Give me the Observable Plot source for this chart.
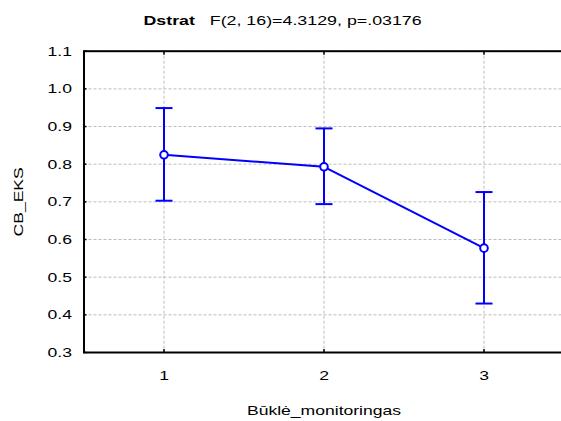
<!DOCTYPE html>
<html><head><meta charset="utf-8">
<script src="https://cdn.jsdelivr.net/npm/d3@7"></script>
<script src="https://cdn.jsdelivr.net/npm/@observablehq/plot@0.6"></script>
<style>
html,body{margin:0;padding:0;background:#fff;overflow:hidden;width:561px;height:421px;}
#title{height:32px;width:561px;text-align:center;font-family:"Liberation Sans",Arial,sans-serif;font-size:13px;line-height:15px;padding-top:13px;box-sizing:border-box;white-space:nowrap;}
#title span.inner{display:inline-block;transform:scaleX(1.37);transform-origin:center;margin-left:5px;}
#chart{width:561px;height:389px;overflow:hidden;}
</style></head><body>
<div id="title"><span class="inner"><b>Dstrat</b>&nbsp;&nbsp; F(2, 16)=4.3129, p=.03176</span></div>
<div id="chart"></div>
<script>
// Data
const groups = [1, 2, 3];
const means  = [0.825, 0.793, 0.577];
const lower  = [0.703, 0.694, 0.430];
const upper  = [0.949, 0.895, 0.726];
const xTicks = [1, 2, 3];
const yTicks = [0.3, 0.4, 0.5, 0.6, 0.7, 0.8, 0.9, 1.0, 1.1];
const xLabel = "Būklė_monitoringas";
const yLabel = "CB_EKS";

const rows = groups.map((g, i) => ({g, m: means[i], lo: lower[i], hi: upper[i]}));
const blue = "#0000ff";
const capSymbol = {draw(ctx, size) { const r = Math.sqrt(size / Math.PI); ctx.moveTo(-r, 0); ctx.lineTo(r, 0); }};

const plot = Plot.plot({
  width: 564, height: 389,
  marginLeft: 83.5, marginRight: 0.5, marginTop: 18.7, marginBottom: 69,
  style: {fontFamily: "'Liberation Sans', Arial, sans-serif", fontSize: "13.5px", color: "black", background: "white", maxWidth: "none", overflow: "visible"},
  x: {domain: [0.5, 3.5]},
  y: {domain: [0.3, 1.1]},
  marks: [
    Plot.gridX(xTicks, {stroke: "#bdbdbd", strokeOpacity: 1, strokeDasharray: "3,2"}),
    Plot.gridY(yTicks, {stroke: "#bdbdbd", strokeOpacity: 1, strokeDasharray: "3,2"}),
    Plot.axisY(yTicks, {anchor: "left", tickSize: -3, tickPadding: 15, tickFormat: d3.format(".1f"), strokeWidth: 1.5,
      label: yLabel, labelAnchor: "center", labelArrow: "none", labelOffset: 71}),
    Plot.axisY(yTicks, {anchor: "right", tickSize: -3, tickFormat: () => "", label: null, strokeWidth: 1.5}),
    Plot.axisX(xTicks, {anchor: "bottom", tickSize: -3, tickPadding: 21, tickFormat: d3.format("d"), strokeWidth: 1.5,
      label: xLabel, labelAnchor: "center", labelArrow: "none", labelOffset: 62}),
    Plot.axisX(xTicks, {anchor: "top", tickSize: -3, tickFormat: () => "", label: null, strokeWidth: 1.5}),
    Plot.ruleX(rows, {x: "g", y1: "lo", y2: "hi", stroke: blue, strokeWidth: 2}),
    Plot.dot(rows, {x: "g", y: "lo", symbol: capSymbol, r: 8.5, stroke: blue, strokeWidth: 2, fill: "none"}),
    Plot.dot(rows, {x: "g", y: "hi", symbol: capSymbol, r: 8.5, stroke: blue, strokeWidth: 2, fill: "none"}),
    Plot.line(rows, {x: "g", y: "m", stroke: blue, strokeWidth: 2}),
    Plot.dot(rows, {x: "g", y: "m", r: 3.8, stroke: blue, strokeWidth: 2, fill: "white"}),
    Plot.frame({stroke: "black", strokeWidth: 2})
  ]
});
document.getElementById("chart").appendChild(plot);

// Reference text is horizontally wider than plain Arial; stretch glyphs to match
const k = 1.3;
plot.querySelectorAll("text").forEach(t => {
  const L = t.getComputedTextLength();
  if (L > 0) { t.setAttribute("textLength", L * k); t.setAttribute("lengthAdjust", "spacingAndGlyphs"); }
});
</script>
</body></html>
